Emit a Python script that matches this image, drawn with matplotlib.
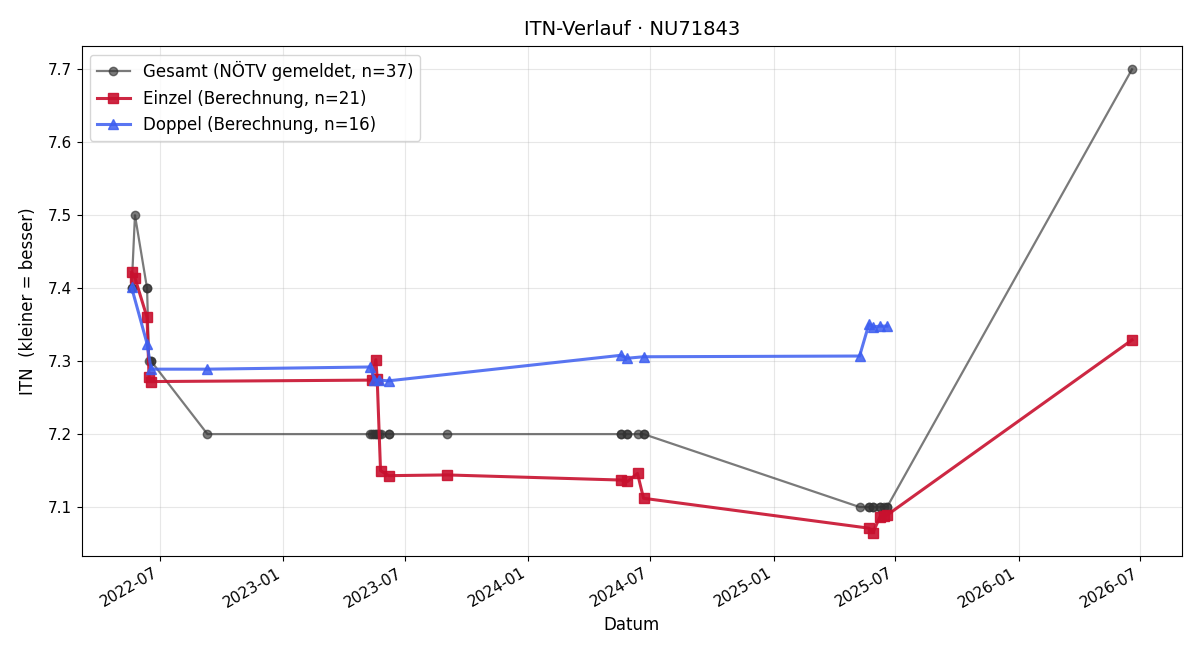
import matplotlib
matplotlib.use("Agg")
import matplotlib.pyplot as plt
import matplotlib.dates as mdates
import pandas as pd

einzel_dates = ["2022-05-20", "2022-05-25", "2022-06-12", "2022-06-15", "2022-06-18",
                "2023-05-13", "2023-05-19", "2023-05-21", "2023-05-26", "2023-06-07",
                "2023-09-02", "2024-05-18", "2024-05-28", "2024-06-12", "2024-06-21",
                "2025-05-23", "2025-05-29", "2025-06-08", "2025-06-14", "2025-06-19",
                "2026-06-19"]
einzel_vals = [7.422, 7.414, 7.360, 7.278, 7.272,
               7.274, 7.302, 7.276, 7.150, 7.143,
               7.144, 7.137, 7.135, 7.146, 7.112,
               7.071, 7.065, 7.086, 7.088, 7.089,
               7.329]

doppel_dates = ["2022-05-20", "2022-06-12", "2022-06-18", "2022-09-10",
                "2023-05-11", "2023-05-17", "2023-05-23", "2023-06-07",
                "2024-05-18", "2024-05-28", "2024-06-21",
                "2025-05-09", "2025-05-23", "2025-05-29", "2025-06-08", "2025-06-19"]
doppel_vals = [7.401, 7.324, 7.289, 7.289,
               7.292, 7.274, 7.274, 7.273,
               7.308, 7.304, 7.306,
               7.307, 7.351, 7.347, 7.348, 7.348]

gesamt_dates = ["2022-05-20", "2022-05-20", "2022-05-25", "2022-06-12", "2022-06-12",
                "2022-06-15", "2022-06-18", "2022-06-18", "2022-09-10",
                "2023-05-11", "2023-05-13", "2023-05-17", "2023-05-19", "2023-05-21",
                "2023-05-23", "2023-05-26", "2023-06-07", "2023-06-07", "2023-09-02",
                "2024-05-18", "2024-05-18", "2024-05-28", "2024-05-28", "2024-06-12",
                "2024-06-21", "2024-06-21",
                "2025-05-09", "2025-05-23", "2025-05-23", "2025-05-29", "2025-05-29",
                "2025-06-08", "2025-06-08", "2025-06-14", "2025-06-19", "2025-06-19",
                "2026-06-19"]
gesamt_vals = [7.4, 7.4, 7.5, 7.4, 7.4,
               7.3, 7.3, 7.3, 7.2,
               7.2, 7.2, 7.2, 7.2, 7.2,
               7.2, 7.2, 7.2, 7.2, 7.2,
               7.2, 7.2, 7.2, 7.2, 7.2,
               7.2, 7.2,
               7.1, 7.1, 7.1, 7.1, 7.1,
               7.1, 7.1, 7.1, 7.1, 7.1,
               7.7]

fig, ax = plt.subplots(figsize=(12, 6.6), dpi=100)

ax.plot(pd.to_datetime(gesamt_dates), gesamt_vals, marker="o", color="#333333",
        alpha=0.65, linewidth=1.6, markersize=6,
        label=f"Gesamt (NÖTV gemeldet, n={len(gesamt_vals)})")
ax.plot(pd.to_datetime(einzel_dates), einzel_vals, marker="s", color="#c8102e",
        alpha=0.9, linewidth=2.2, markersize=7,
        label=f"Einzel (Berechnung, n={len(einzel_vals)})")
ax.plot(pd.to_datetime(doppel_dates), doppel_vals, marker="^", color="#3d5ef0",
        alpha=0.85, linewidth=2.2, markersize=7,
        label=f"Doppel (Berechnung, n={len(doppel_vals)})")

ax.set_title("ITN-Verlauf · NU71843", fontsize=14, pad=8)
ax.set_xlabel("Datum", fontsize=12)
ax.set_ylabel("ITN  (kleiner = besser)", fontsize=12, labelpad=8)
ax.grid(True, alpha=0.3)
ax.legend(loc="upper left", fontsize=12)
ax.xaxis.set_major_locator(mdates.MonthLocator(bymonth=[1, 7]))
ax.xaxis.set_major_formatter(mdates.DateFormatter("%Y-%m"))
ax.tick_params(labelsize=11)
fig.autofmt_xdate()
fig.subplots_adjust(left=0.068, right=0.985, top=0.93, bottom=0.158)
fig.savefig("out.png", dpi=100)
